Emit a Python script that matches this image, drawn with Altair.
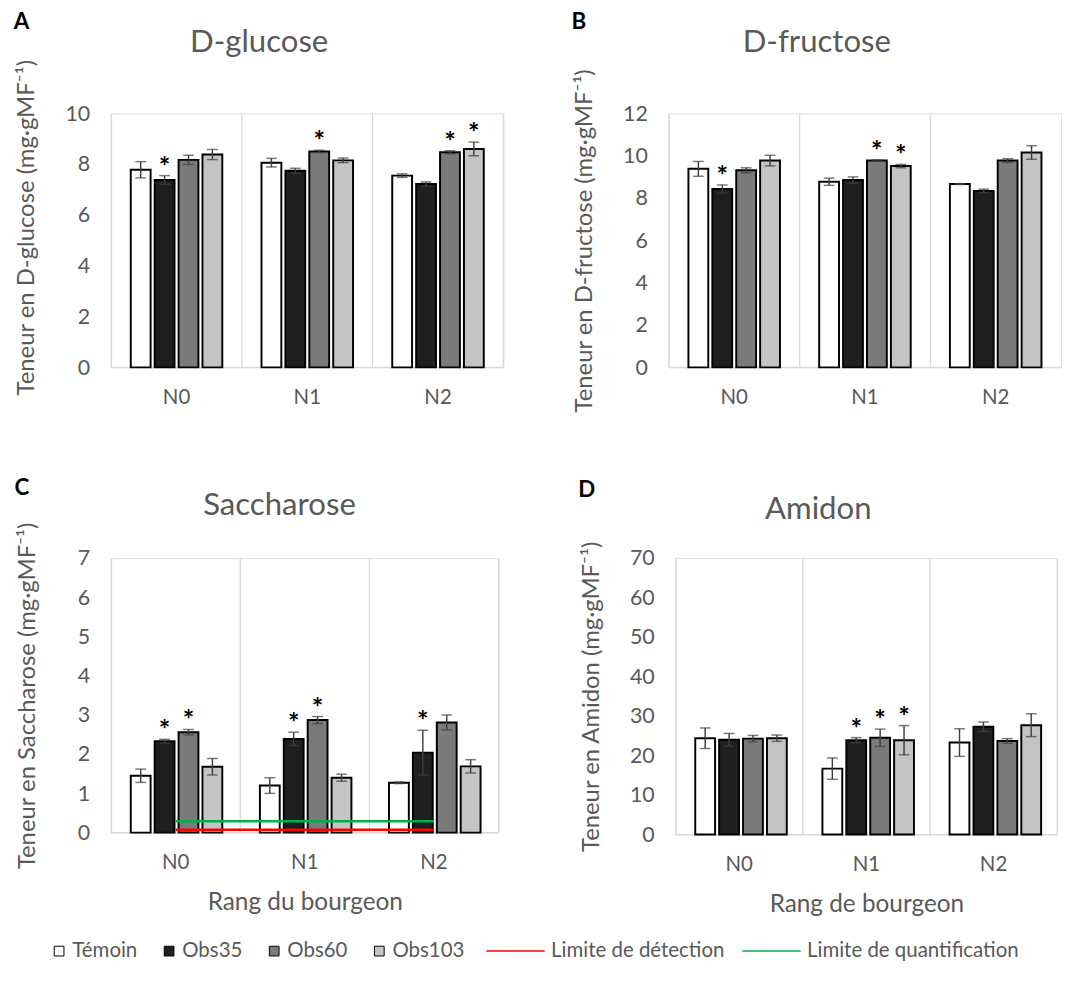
import altair as alt
import pandas as pd

# ---------------- data ----------------
rangs = ["N0", "N1", "N2"]
treatments = ["Témoin", "Obs35", "Obs60", "Obs103"]

glucose_mean = [7.78, 7.38, 8.17, 8.38, 8.06, 7.74, 8.50, 8.15, 7.55, 7.22, 8.47, 8.60]
glucose_err = [0.32, 0.17, 0.18, 0.20, 0.17, 0.10, 0.05, 0.09, 0.07, 0.08, 0.06, 0.27]
glucose_sig = [0, 1, 0, 0, 0, 0, 1, 0, 0, 0, 1, 1]

fructose_mean = [9.38, 8.43, 9.31, 9.77, 8.77, 8.85, 9.77, 9.51, 8.66, 8.34, 9.77, 10.15]
fructose_err = [0.35, 0.19, 0.12, 0.25, 0.17, 0.15, 0.03, 0.08, 0.02, 0.08, 0.09, 0.32]
fructose_sig = [0, 1, 0, 0, 0, 0, 1, 1, 0, 0, 0, 0]

sacch_mean = [1.45, 2.33, 2.56, 1.68, 1.20, 2.39, 2.87, 1.40, 1.27, 2.04, 2.81, 1.69]
sacch_err = [0.17, 0.05, 0.07, 0.21, 0.20, 0.17, 0.09, 0.09, 0.02, 0.57, 0.19, 0.17]
sacch_sig = [0, 1, 1, 0, 0, 1, 1, 0, 0, 1, 0, 0]

amidon_mean = [24.4, 24.0, 24.3, 24.4, 16.7, 23.9, 24.5, 23.9, 23.3, 27.3, 23.7, 27.7]
amidon_err = [2.6, 1.6, 0.8, 0.8, 2.7, 0.65, 2.2, 3.7, 3.5, 1.2, 0.6, 2.9]
amidon_sig = [0, 0, 0, 0, 0, 1, 1, 1, 0, 0, 0, 0]

limit_names = ["Limite de détection", "Limite de quantification"]
limit_values = [0.075, 0.29]

fill_colors = ["#ffffff", "#1f1f1f", "#7a7a7a", "#c4c4c4"]
limit_colors = ["#ff0000", "#00b050"]

FONT = "Lato"
GREY = "#595959"
GRID = "#d9d9d9"
ERR = "#404040"


def make_df(means, errs, sig):
    rows = []
    i = 0
    for r in rangs:
        for t in treatments:
            rows.append(dict(rang=r, trt=t, val=means[i], lo=means[i] - errs[i],
                             hi=means[i] + errs[i], sig=sig[i]))
            i += 1
    return pd.DataFrame(rows)


fill_scale = alt.Scale(domain=treatments, range=fill_colors)
stroke_scale = alt.Scale(domain=limit_names, range=limit_colors)
fill_legend = alt.Legend(
    orient="none", direction="horizontal", legendX=-64, legendY=850, title=None,
    symbolType="square", symbolSize=100, symbolStrokeColor="black", symbolStrokeWidth=1,
    labelFont=FONT, labelFontSize=21, labelColor=GREY, labelOffset=3, columnPadding=22,
    labelLimit=400,
)
stroke_legend = alt.Legend(
    orient="none", direction="horizontal", legendX=405, legendY=850, title=None,
    symbolType="M-6,0H6", symbolSize=100, symbolStrokeWidth=1.5,
    labelFont=FONT, labelFontSize=21, labelColor=GREY, labelOffset=26, columnPadding=14,
    labelLimit=400,
)


def panel(df, title, ytitle, ymax, ystep, W, H, right_rule=True, xtitle=None,
          title_dx=0, ytitle_y=None, title_pad=27, title_offset=0, limits=False):
    xscale = alt.Scale(domain=rangs, paddingInner=0, paddingOuter=0)
    xoff = alt.Scale(domain=treatments, paddingInner=0.17, paddingOuter=0.82)
    yscale = alt.Scale(domain=[0, ymax], nice=False)
    xaxis = alt.Axis(grid=False, domain=False, ticks=False, labelAngle=0, labelPadding=20,
                     labelFont=FONT, labelFontSize=21, labelColor=GREY,
                     titleFont=FONT, titleFontSize=25, titleColor=GREY,
                     titleFontWeight="normal", titlePadding=18)
    yargs = dict(grid=False, domain=False, ticks=False, labelPadding=22,
                 values=list(range(0, ymax + 1, ystep)),
                 labelFont=FONT, labelFontSize=22, labelColor=GREY,
                 titleFont=FONT, titleFontSize=24.5, titleColor=GREY,
                 titleFontWeight="normal", titlePadding=title_pad)
    if ytitle_y is not None:
        yargs["titleY"] = ytitle_y
    yaxis = alt.Axis(**yargs)

    X = alt.X("rang:N", scale=xscale, axis=xaxis, title=xtitle)
    XO = alt.XOffset("trt:N", scale=xoff, sort=treatments)

    def Y(f):
        return alt.Y(f, scale=yscale, axis=yaxis, title=ytitle)

    base = alt.Chart(df)
    seps = alt.Chart(pd.DataFrame({"rang": rangs})).mark_rule(
        color=GRID, strokeWidth=1.3).encode(
        x=alt.X("rang:N", scale=xscale, axis=xaxis, title=xtitle, bandPosition=0),
        y=alt.value(0), y2=alt.value(H))
    baseline = alt.Chart(pd.DataFrame({"z": [0]})).mark_rule(
        color=GRID, strokeWidth=1.3).encode(
        y=alt.Y("z:Q", scale=yscale, axis=yaxis, title=ytitle),
        x=alt.value(0), x2=alt.value(W))
    layers = [seps, baseline]
    if right_rule:
        layers.append(alt.Chart(pd.DataFrame({"z": [0]})).mark_rule(
            color=GRID, strokeWidth=1.3).encode(
            x=alt.value(W), y=alt.value(0), y2=alt.value(H)))
    bars = base.mark_bar(stroke="black", strokeWidth=2).encode(
        x=X, xOffset=XO, y=Y("val:Q"),
        fill=alt.Fill("trt:N", scale=fill_scale, legend=fill_legend, sort=treatments))
    err = base.mark_rule(color=ERR, strokeWidth=1.5).encode(
        x=X, xOffset=XO, y=Y("lo:Q"), y2="hi:Q")
    cap_lo = base.mark_tick(color=ERR, thickness=1.5, size=11).encode(
        x=X, xOffset=XO, y=Y("lo:Q"))
    cap_hi = base.mark_tick(color=ERR, thickness=1.5, size=11).encode(
        x=X, xOffset=XO, y=Y("hi:Q"))
    layers += [bars, err, cap_lo, cap_hi]
    if limits:
        rows = []
        for n, v in zip(limit_names, limit_values):
            for r in rangs:
                rows.append(dict(rang=r, name=n, lim=v))
        lim = alt.Chart(pd.DataFrame(rows)).mark_line(strokeWidth=2.5).encode(
            x=X, y=Y("lim:Q"),
            stroke=alt.Stroke("name:N", scale=stroke_scale, legend=stroke_legend,
                              sort=limit_names))
        layers.append(lim)
    stars = alt.Chart(df[df.sig == 1]).mark_text(
        text="*", font=FONT, fontSize=28, fontWeight="bold", color="black",
        baseline="alphabetic", dy=0).encode(x=X, xOffset=XO, y=Y("hi:Q"))
    layers.append(stars)
    return alt.layer(*layers).properties(
        width=W, height=H,
        title=alt.TitleParams(title, font=FONT, fontSize=32, color=GREY,
                              fontWeight="normal", anchor="middle", frame="bounds",
                              offset=title_offset, dx=title_dx))


def lettered(ch, letter, dy):
    return alt.vconcat(ch, title=alt.TitleParams(letter, anchor="start", font=FONT,
                                                 fontSize=23, fontWeight="bold",
                                                 color="black", offset=0, dy=dy))


pA = panel(make_df(glucose_mean, glucose_err, glucose_sig), "D-glucose",
           "Teneur en D-glucose (mg·gMF⁻¹)", 10, 2, 403, 261, ytitle_y=117,
           title_offset=0)
pB = panel(make_df(fructose_mean, fructose_err, fructose_sig), "D-fructose",
           "Teneur en D-fructose (mg·gMF⁻¹)", 12, 2, 403, 261, right_rule=False,
           title_offset=10)
pC = panel(make_df(sacch_mean, sacch_err, sacch_sig), "Saccharose",
           "Teneur en Saccharose (mg·gMF⁻¹)", 7, 1, 398, 282,
           xtitle="Rang du bourgeon", title_dx=23, title_pad=39, title_offset=0,
           limits=True)
pD = panel(make_df(amidon_mean, amidon_err, amidon_sig), "Amidon",
           "Teneur en Amidon (mg·gMF⁻¹)", 70, 10, 392, 284,
           xtitle="Rang de bourgeon", title_offset=15)

row1 = alt.hconcat(lettered(pA, "A", 8), lettered(pB, "B", 8), spacing=67)
row2 = alt.hconcat(lettered(pC, "C", 11), lettered(pD, "D", 9), spacing=79)

chart = alt.vconcat(row1, row2, spacing=66).properties(
    padding={"left": 5, "top": -10, "right": 0, "bottom": 0}
).configure_view(stroke=None).configure(font=FONT)

chart.save("out.html", embed_options={"renderer": "svg", "actions": False})
